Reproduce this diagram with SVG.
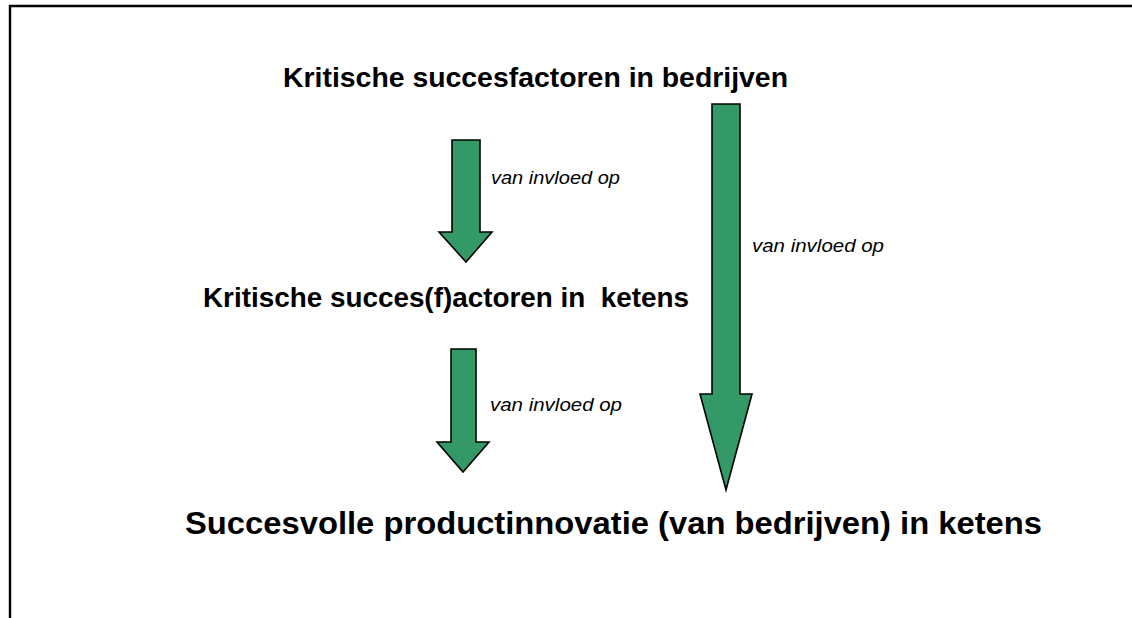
<svg xmlns="http://www.w3.org/2000/svg" width="1132" height="618" viewBox="0 0 1132 618">
  <style>
    .frame { fill: none; stroke: #000; stroke-width: 2.4; }
    .arrow { fill: #339966; stroke: #000; stroke-width: 1.6; stroke-linejoin: miter; }
    .head { font-family: "Liberation Sans", Arial, sans-serif; font-weight: bold; fill: #000; }
    .lbl { font-family: "Liberation Sans", Arial, sans-serif; font-style: italic; font-size: 19px; fill: #000; }
  </style>
  <rect width="1132" height="618" fill="#fff"/>
  <!-- slide frame: top and left edges -->
  <polyline class="frame" points="10,620 10,6 1134,6"/>

  <g id="node-bedrijven">
    <text class="head" x="283" y="87" font-size="28.5" textLength="505" lengthAdjust="spacingAndGlyphs">Kritische succesfactoren in bedrijven</text>
  </g>
  <g id="node-ketens">
    <text class="head" x="203" y="307" font-size="28.5" textLength="486" lengthAdjust="spacingAndGlyphs" xml:space="preserve">Kritische succes(f)actoren in  ketens</text>
  </g>
  <g id="node-innovatie">
    <text class="head" x="185" y="534" font-size="32" textLength="857" lengthAdjust="spacingAndGlyphs">Succesvolle productinnovatie (van bedrijven) in ketens</text>
  </g>

  <g id="connectors">
    <g id="arrow-bedrijven-ketens">
      <polygon class="arrow" points="452,140 480,140 480,232 492,232 466,262 439,232 452,232"/>
      <text class="lbl" x="491" y="184" textLength="129" lengthAdjust="spacingAndGlyphs">van invloed op</text>
    </g>
    <g id="arrow-ketens-innovatie">
      <polygon class="arrow" points="451,349 476,349 476,442 489,442 463,472 437,442 451,442"/>
      <text class="lbl" x="490" y="411" textLength="132" lengthAdjust="spacingAndGlyphs">van invloed op</text>
    </g>
    <g id="arrow-bedrijven-innovatie">
      <polygon class="arrow" points="712,104 740,104 740,394 752,394 726,490 700,394 712,394"/>
      <text class="lbl" x="752" y="252" textLength="132" lengthAdjust="spacingAndGlyphs">van invloed op</text>
    </g>
  </g>
</svg>
